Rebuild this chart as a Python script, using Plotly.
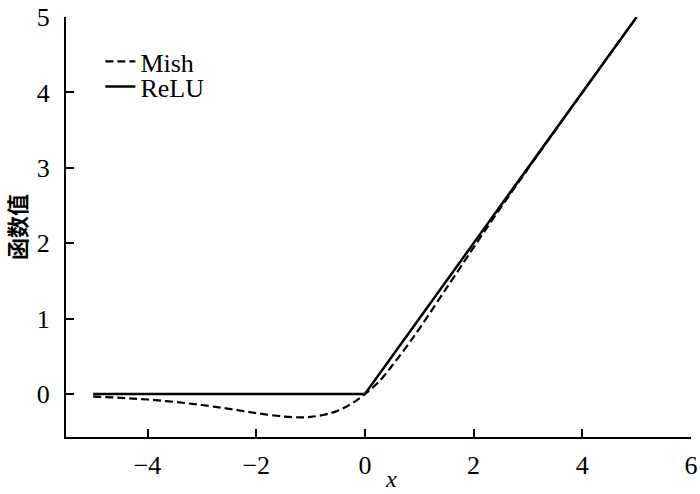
import plotly.graph_objects as go

# Data
mish_x = [-5, -4.5, -4, -3.5, -3, -2.5, -2, -1.5, -1.2, -1, -0.75, -0.5, -0.25, 0,
          0.25, 0.5, 0.75, 1, 1.5, 2, 2.5, 3, 3.5, 4, 4.5, 5]
mish_y = [-0.034, -0.050, -0.073, -0.105, -0.146, -0.197, -0.253, -0.298, -0.309, -0.303,
          -0.275, -0.221, -0.130, 0.0,
          0.157, 0.375, 0.613, 0.865, 1.403, 1.944, 2.472, 2.987, 3.493, 3.997, 4.499, 5.0]
relu_x = [-5, 0, 5]
relu_y = [0, 0, 5]

x_ticks = [-4, -2, 0, 2, 4, 6]
x_tick_labels = ["\u22124", "\u22122", "0", "2", "4", "6"]
y_ticks = [0, 1, 2, 3, 4, 5]
y_tick_labels = ["0", "1", "2", "3", "4", "5"]

fig = go.Figure()
fig.add_trace(go.Scatter(x=mish_x, y=mish_y, mode="lines", name="Mish", legend="legend",
                         line=dict(color="black", width=2.2, dash="8px,4px", shape="spline")))
fig.add_trace(go.Scatter(x=relu_x, y=relu_y, mode="lines", name="ReLU", legend="legend2",
                         line=dict(color="black", width=2.5)))

serif = "Liberation Serif"
leg_common = dict(xanchor="left", yanchor="middle", bgcolor="rgba(0,0,0,0)",
                  font=dict(family=serif, size=26), itemwidth=30, borderwidth=0)
fig.update_layout(
    width=700, height=494,
    margin=dict(l=66, r=9, t=17, b=57, autoexpand=False),
    paper_bgcolor="white", plot_bgcolor="white",
    font=dict(family=serif, size=26, color="black"),
    showlegend=True,
    legend=dict(x=0.055, y=0.894, **leg_common),
    legend2=dict(x=0.055, y=0.834, **leg_common),
    xaxis=dict(range=[-5.5, 6], tickvals=x_ticks, ticktext=x_tick_labels,
               showgrid=False, zeroline=False, showline=True, linecolor="black",
               linewidth=2, ticks="inside", ticklen=8, tickwidth=2, tickcolor="black",
               tickfont=dict(family=serif, size=26), automargin=False,
               ticklabelstandoff=4, ticklabeloverflow="allow"),
    yaxis=dict(range=[-0.57, 5], tickvals=y_ticks, ticktext=y_tick_labels,
               showgrid=False, zeroline=False, showline=True, linecolor="black",
               linewidth=2, ticks="inside", ticklen=8, tickwidth=2, tickcolor="black",
               tickfont=dict(family=serif, size=26), automargin=False,
               ticklabelstandoff=9, ticklabeloverflow="allow"),
    annotations=[
        dict(text="<i>x</i>", xref="paper", yref="paper", x=0.52, y=-0.1357,
             xanchor="center", yanchor="bottom", showarrow=False,
             font=dict(family=serif, size=24, color="black")),
        dict(text="<b>函数值</b>", xref="paper", yref="paper", x=-0.08, y=0.5,
             xanchor="center", yanchor="middle", textangle=-90, showarrow=False,
             font=dict(family="Noto Sans CJK SC", size=22, color="black")),
    ],
)

fig.write_html("out.html", config={"displayModeBar": False},
               post_script="document.body.style.margin='0';document.body.style.overflow='hidden';")
